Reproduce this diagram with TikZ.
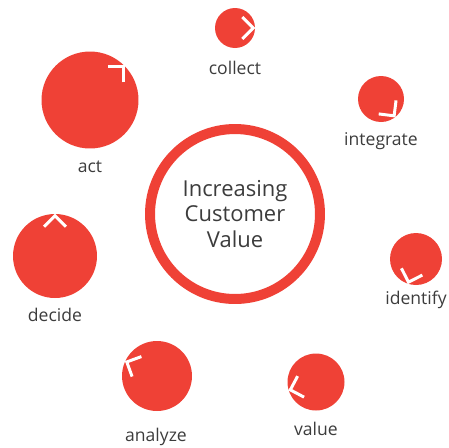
\documentclass[tikz,border=0pt]{standalone}
\usepackage{fontspec}
\setmainfont{Open Sans}
\usepackage{xcolor}
\definecolor{cvred}{RGB}{239,65,54}
\definecolor{cvtext}{RGB}{60,60,60}

\begin{document}
\begin{tikzpicture}[x=0.02cm, y=-0.02cm,
  dot/.style={shape=circle, fill=cvred, inner sep=0pt},
  lab/.style={anchor=base, text=cvtext, font=\fontsize{10}{12}\selectfont},
  chev/.pic={\draw[white, line width=1.7pt] (-13,11) -- (-2,0) -- (-13,-11);}]
\useasboundingbox (0,0) rectangle (449,447);

% Vòng giữa
\node[shape=circle, draw=cvred, line width=0.2cm, minimum size=3.4cm,
  align=center, text=cvtext, font=\fontsize{12.5}{14.5}\selectfont] (hub) at (235,214)
  {Increasing\\Customer\\Value};

% Các bước
\node[dot, minimum size=0.8cm] (collect) at (235,28) {};
\node[dot, minimum size=0.92cm] (integrate) at (381,99) {};
\node[dot, minimum size=1.04cm] (identify) at (416,259) {};
\node[dot, minimum size=1.14cm] (value) at (316,382) {};
\node[dot, minimum size=1.4cm] (analyze) at (157,376) {};
\node[dot, minimum size=1.68cm] (decide) at (55,256) {};
\node[dot, minimum size=1.94cm] (act) at (90,100) {};

% Nhãn
\node[lab] (lcollect) at (235,74) {collect};
\node[lab] (lintegrate) at (381,145) {integrate};
\node[lab] (lidentify) at (416,304) {identify};
\node[lab] (lvalue) at (316,435) {value};
\node[lab] (lanalyze) at (156,441) {analyze};
\node[lab] (ldecide) at (55,321) {decide};
\node[lab] (lact) at (90,172) {act};

% Mũi tên
\pic[rotate=0] at (collect.0) {chev};
\pic[rotate=-52] at (integrate.-52) {chev};
\pic[rotate=-108] at (identify.-108) {chev};
\pic[rotate=-163] at (value.-163) {chev};
\pic[rotate=155] at (analyze.155) {chev};
\pic[rotate=90] at (decide.90) {chev};
\pic[rotate=45] at (act.45) {chev};
\end{tikzpicture}
\end{document}
